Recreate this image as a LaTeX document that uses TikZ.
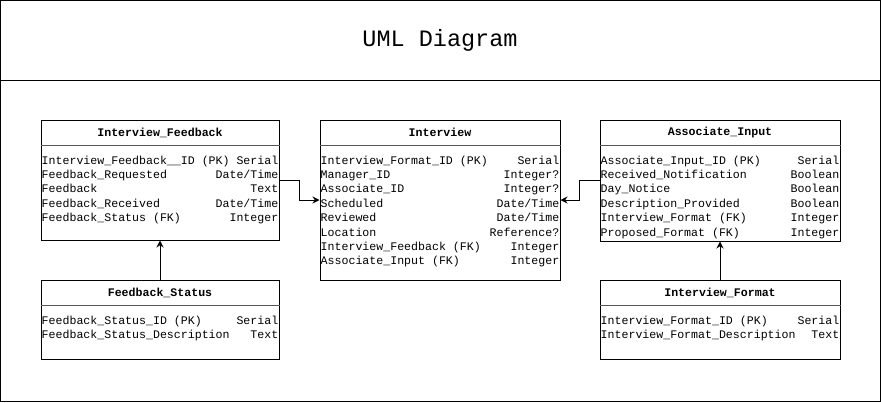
\documentclass[tikz,border=0pt]{standalone}
\usepackage{fontspec}
\setmainfont{Liberation Mono}
\usetikzlibrary{arrows.meta,calc}

\begin{document}
\begin{tikzpicture}[x=1pt,y=-1pt,
  entity/.style={draw,line width=1pt,inner sep=0pt},
  headtext/.style={font=\fontsize{11.6}{13}\selectfont\bfseries,inner sep=0pt},
  rowtext/.style={font=\fontsize{11.6}{13}\selectfont,inner sep=0pt,text height=8pt,text depth=2.5pt},
  sepline/.style={draw=black!65,line width=1.6pt},
  link/.style={line width=1pt,-{Stealth[length=7pt,width=7pt]}}]
 \draw[line width=1pt] (0.5,0.5) rectangle (880.5,401.5);
 \draw[line width=1pt] (0.5,80) -- (880.5,80);
 \node[font=\fontsize{23.5}{26}\selectfont] (title) at (440,40) {UML Diagram};

 \node[entity,minimum width=238pt,minimum height=120pt] (ifb) at (160,180) {};
 \node[headtext] (ifbhead) at (160,132.5) {Interview\_Feedback};
 \draw[sepline] ($(ifb.north west)+(0,26)$) -- ($(ifb.north east)+(0,26)$);
 \foreach \l/\r [count=\i] in {Interview\_Feedback\_\_ID (PK)/Serial,Feedback\_Requested/{Date/Time},Feedback/Text,Feedback\_Received/{Date/Time},Feedback\_Status (FK)/Integer}{
  \node[rowtext,anchor=west] (ifbl\i) at ($(ifb.north west)+(1,{27.5+14.4*\i})$) {\l};
  \node[rowtext,anchor=east] (ifbr\i) at ($(ifb.north east)+(-1,{27.5+14.4*\i})$) {\r};
 }

 \node[entity,minimum width=240pt,minimum height=160pt] (iv) at (440,200) {};
 \node[headtext] (ivhead) at (440,132.5) {Interview};
 \draw[sepline] ($(iv.north west)+(0,26)$) -- ($(iv.north east)+(0,26)$);
 \foreach \l/\r [count=\i] in {Interview\_Format\_ID (PK)/Serial,Manager\_ID/Integer?,Associate\_ID/Integer?,Scheduled/{Date/Time},Reviewed/{Date/Time},Location/Reference?,Interview\_Feedback (FK)/Integer,Associate\_Input (FK)/Integer}{
  \node[rowtext,anchor=west] (ivl\i) at ($(iv.north west)+(1,{27.5+14.4*\i})$) {\l};
  \node[rowtext,anchor=east] (ivr\i) at ($(iv.north east)+(-1,{27.5+14.4*\i})$) {\r};
 }

 \node[entity,minimum width=240pt,minimum height=121pt] (ai) at (720,180.5) {};
 \node[headtext] (aihead) at (720,132.5) {Associate\_Input};
 \draw[sepline] ($(ai.north west)+(0,26)$) -- ($(ai.north east)+(0,26)$);
 \foreach \l/\r [count=\i] in {Associate\_Input\_ID (PK)/Serial,Received\_Notification/Boolean,Day\_Notice/Boolean,Description\_Provided/Boolean,Interview\_Format (FK)/Integer,Proposed\_Format (FK)/Integer}{
  \node[rowtext,anchor=west] (ail\i) at ($(ai.north west)+(1,{27.5+14.4*\i})$) {\l};
  \node[rowtext,anchor=east] (air\i) at ($(ai.north east)+(-1,{27.5+14.4*\i})$) {\r};
 }

 \node[entity,minimum width=238pt,minimum height=79pt] (fs) at (160,319.5) {};
 \node[headtext] (fshead) at (160,293) {Feedback\_Status};
 \draw[sepline] ($(fs.north west)+(0,26)$) -- ($(fs.north east)+(0,26)$);
 \foreach \l/\r [count=\i] in {Feedback\_Status\_ID (PK)/Serial,Feedback\_Status\_Description/Text}{
  \node[rowtext,anchor=west] (fsl\i) at ($(fs.north west)+(1,{27.5+14.4*\i})$) {\l};
  \node[rowtext,anchor=east] (fsr\i) at ($(fs.north east)+(-1,{27.5+14.4*\i})$) {\r};
 }

 \node[entity,minimum width=240pt,minimum height=79pt] (ifm) at (720,319.5) {};
 \node[headtext] (ifmhead) at (720,293) {Interview\_Format};
 \draw[sepline] ($(ifm.north west)+(0,26)$) -- ($(ifm.north east)+(0,26)$);
 \foreach \l/\r [count=\i] in {Interview\_Format\_ID (PK)/Serial,Interview\_Format\_Description/Text}{
  \node[rowtext,anchor=west] (ifml\i) at ($(ifm.north west)+(1,{27.5+14.4*\i})$) {\l};
  \node[rowtext,anchor=east] (ifmr\i) at ($(ifm.north east)+(-1,{27.5+14.4*\i})$) {\r};
 }

 \draw[link] (ifb.east) -- ++(20,0) |- (iv.west);
 \draw[link] (ai.west) -- ++(-20,0) |- (iv.east);
 \draw[link] (fs.north) -- (ifb.south);
 \draw[link] (ifm.north) -- (ai.south);
\end{tikzpicture}
\end{document}
